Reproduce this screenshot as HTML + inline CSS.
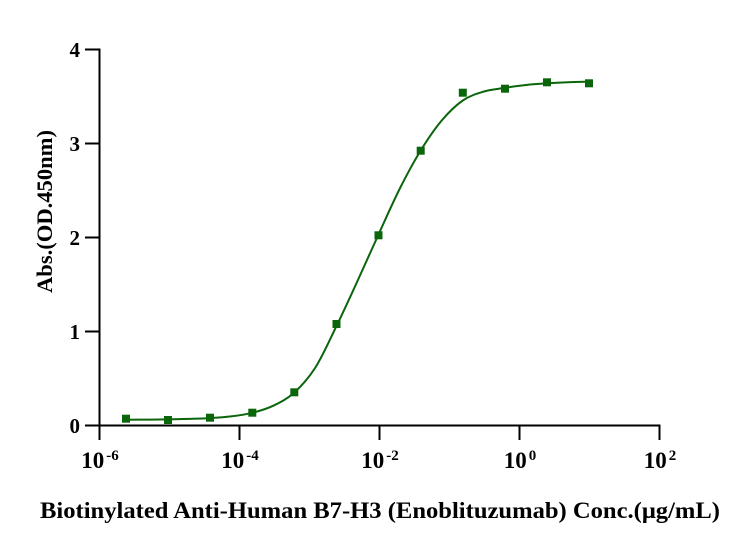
<!DOCTYPE html>
<html><head><meta charset="utf-8"><style>
html,body{margin:0;padding:0;background:#fff;}
svg{display:block;}
text{font-family:"Liberation Serif","Times New Roman",serif;font-weight:bold;fill:#000;}
</style></head><body>
<svg width="748" height="553" viewBox="0 0 748 553" xmlns="http://www.w3.org/2000/svg">
<rect width="748" height="553" fill="#fff"/>
<!-- axes -->
<g stroke="#000" stroke-width="2" fill="none">
<line x1="99.5" y1="48.5" x2="99.5" y2="440"/>
<line x1="85" y1="425.5" x2="660.5" y2="425.5"/>
<line x1="85" y1="49.5" x2="99.5" y2="49.5"/>
<line x1="85" y1="143.5" x2="99.5" y2="143.5"/>
<line x1="85" y1="237.5" x2="99.5" y2="237.5"/>
<line x1="85" y1="331.5" x2="99.5" y2="331.5"/>
<line x1="239.5" y1="425" x2="239.5" y2="440"/>
<line x1="379.5" y1="425" x2="379.5" y2="440"/>
<line x1="519.5" y1="425" x2="519.5" y2="440"/>
<line x1="659.5" y1="425" x2="659.5" y2="440"/>
</g>
<!-- y tick labels -->
<g font-size="21" text-anchor="end">
<text x="80" y="57">4</text>
<text x="80" y="151">3</text>
<text x="80" y="245">2</text>
<text x="80" y="339">1</text>
<text x="80" y="433">0</text>
</g>
<!-- x tick labels -->
<g font-size="23" text-anchor="middle">
<text x="100" y="468">10<tspan font-size="15" dx="2" dy="-8">-6</tspan></text>
<text x="240" y="468">10<tspan font-size="15" dx="2" dy="-8">-4</tspan></text>
<text x="380" y="468">10<tspan font-size="15" dx="2" dy="-8">-2</tspan></text>
<text x="520" y="468">10<tspan font-size="15" dx="2" dy="-8">0</tspan></text>
<text x="660" y="468">10<tspan font-size="15" dx="2" dy="-8">2</tspan></text>
</g>
<!-- axis titles -->
<text transform="translate(52,211.5) rotate(-90)" font-size="22" text-anchor="middle" textLength="163" lengthAdjust="spacingAndGlyphs">Abs.(OD.450nm)</text>
<text x="40" y="518" font-size="23" textLength="680" lengthAdjust="spacingAndGlyphs">Biotinylated Anti-Human B7-H3 (Enoblituzumab) Conc.(μg/mL)</text>
<!-- curve -->
<path id="curve" fill="none" stroke="#0b650b" stroke-width="2" d="M126,419.7 L147,419.6 L168,419.4 L189,418.9 L210,418.1 L231,416.4 L252.3,412.8 L273.3,405.7 L294.3,392.5 L315.4,367.5 L336.5,326 L357.5,281 L378.5,234.5 L399.6,189 L420.7,150.5 L441.7,120.5 L462.8,100.5 L484,91.5 L505,87.8 L526,85 L547,83.3 L568,82.2 L589,81.6"/>
<!-- markers -->
<g fill="#0b650b">
<rect x="122" y="414.7" width="8" height="8"/>
<rect x="164" y="416" width="8" height="8"/>
<rect x="206" y="413.7" width="8" height="8"/>
<rect x="248.3" y="408.7" width="8" height="8"/>
<rect x="290.3" y="388.3" width="8" height="8"/>
<rect x="332.5" y="320" width="8" height="8"/>
<rect x="374.5" y="231.3" width="8" height="8"/>
<rect x="416.7" y="146.7" width="8" height="8"/>
<rect x="458.8" y="88.7" width="8" height="8"/>
<rect x="501" y="84.7" width="8" height="8"/>
<rect x="543" y="78.3" width="8" height="8"/>
<rect x="585" y="79.3" width="8" height="8"/>
</g>
</svg>
<script>
(function(){
var p=[[126,419.7],[147,419.6],[168,419.4],[189,418.9],[210,418.1],[231,416.4],[252.3,412.8],[273.3,405.7],[294.3,392.5],[315.4,367.5],[336.5,326],[357.5,281],[378.5,234.5],[399.6,189],[420.7,150.5],[441.7,120.5],[462.8,100.5],[484,91.5],[505,87.8],[526,85],[547,83.3],[568,82.2],[589,81.6]];
var d="M"+p[0][0]+","+p[0][1];
for(var i=0;i<p.length-1;i++){
var p0=p[i-1]||p[i],p1=p[i],p2=p[i+1],p3=p[i+2]||p[i+1];
var c1x=p1[0]+(p2[0]-p0[0])/6,c1y=p1[1]+(p2[1]-p0[1])/6;
var c2x=p2[0]-(p3[0]-p1[0])/6,c2y=p2[1]-(p3[1]-p1[1])/6;
d+=" C"+c1x.toFixed(2)+","+c1y.toFixed(2)+" "+c2x.toFixed(2)+","+c2y.toFixed(2)+" "+p2[0]+","+p2[1];
}
document.getElementById("curve").setAttribute("d",d);
})();
</script>
</body></html>
